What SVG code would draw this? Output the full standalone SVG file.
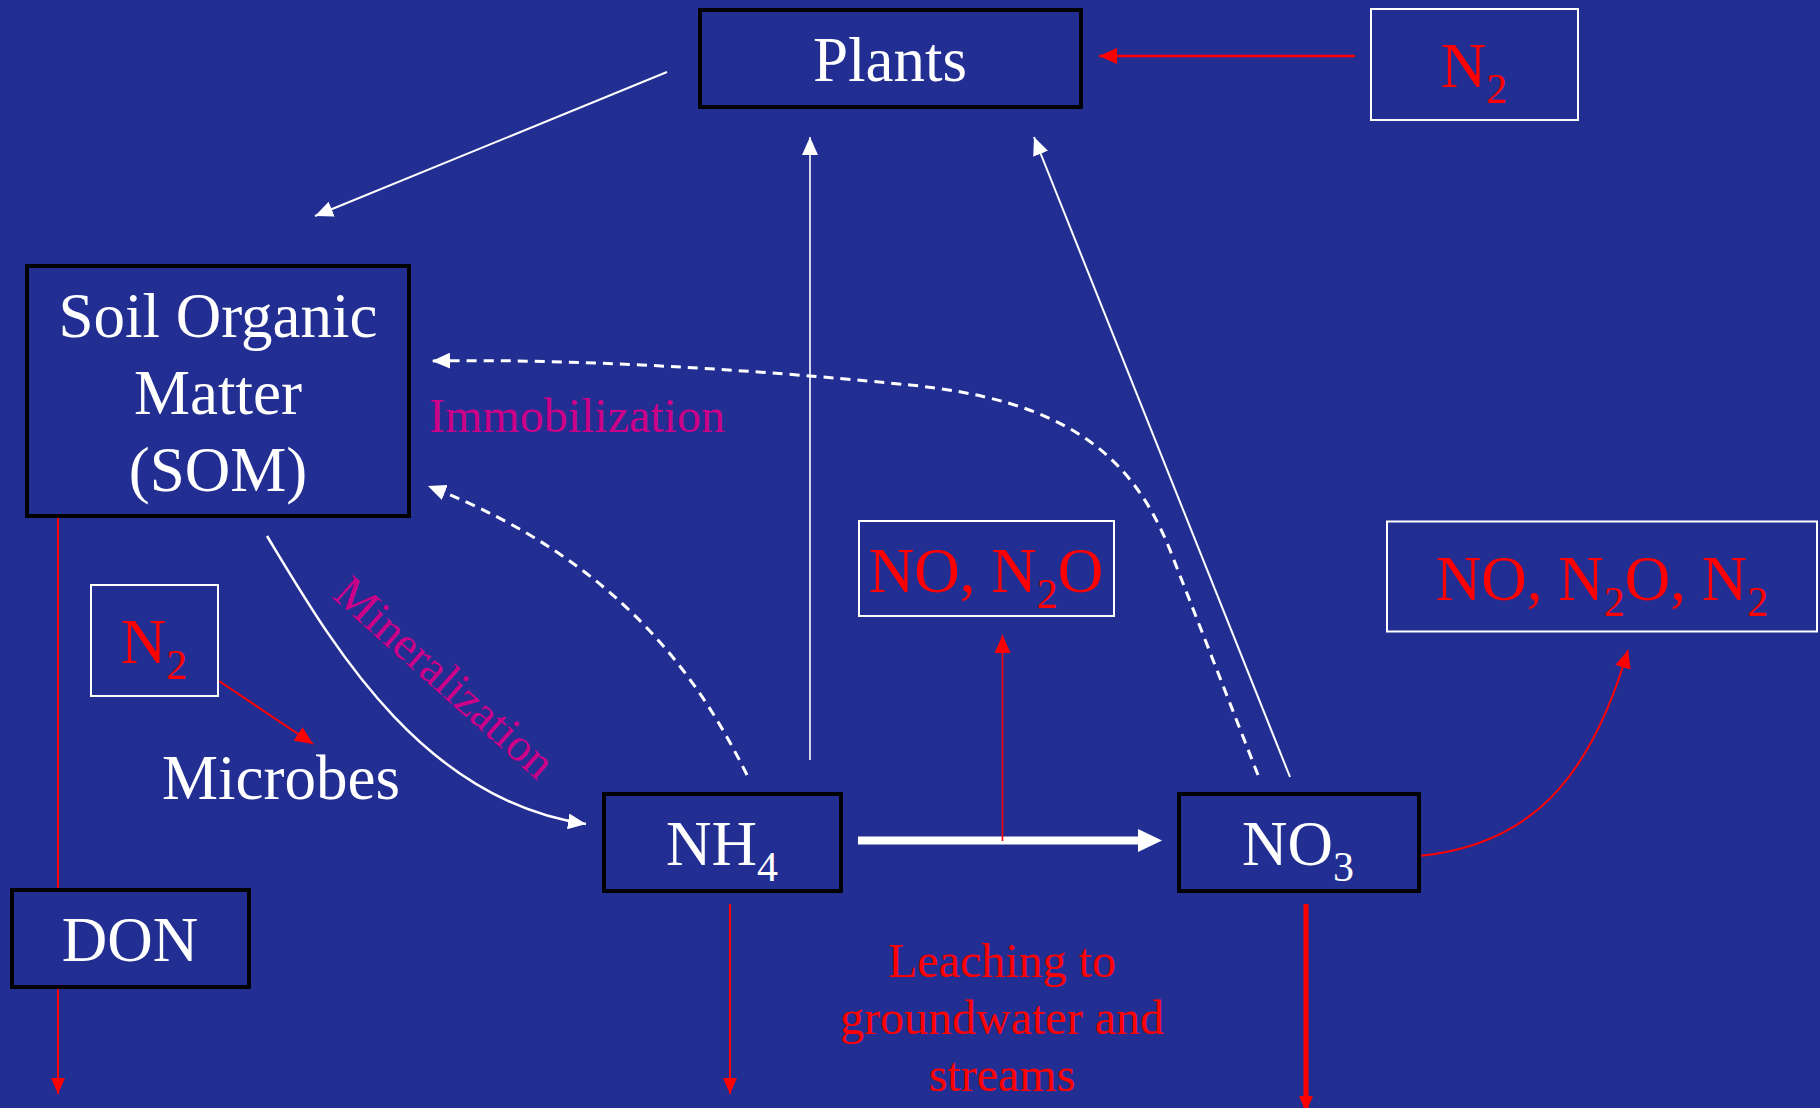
<svg xmlns="http://www.w3.org/2000/svg" width="1820" height="1108" viewBox="0 0 1820 1108">
<style>
.t{font-family:"Liberation Serif","Times New Roman",serif;font-size:63px;fill:#fff;text-anchor:middle}
.r{fill:#f00}
.m{font-family:"Liberation Serif","Times New Roman",serif;font-size:48px;fill:#CC0088}
.lb{font-family:"Liberation Serif","Times New Roman",serif;font-size:48px;fill:#f00;text-anchor:middle}
.sub{font-size:42px}
.bk{fill:#222E92;stroke:#000;stroke-width:4}
.wb{fill:#222E92;stroke:#fff;stroke-width:2}
.w{fill:none;stroke:#fff;stroke-width:2}
.d{fill:none;stroke:#fff;stroke-width:3;stroke-dasharray:10 7}
.rl{fill:none;stroke:#f00;stroke-width:2}
</style>
<defs>
<marker id="aw" markerUnits="userSpaceOnUse" viewBox="0 0 18 16" markerWidth="18" markerHeight="16" refX="18" refY="8" orient="auto"><path d="M0,0 L18,8 L0,16 z" fill="#fff"/></marker>
<marker id="ar" markerUnits="userSpaceOnUse" viewBox="0 0 18 16" markerWidth="18" markerHeight="16" refX="18" refY="8" orient="auto"><path d="M0,0 L18,8 L0,16 z" fill="#f00"/></marker>
<marker id="ar2" markerUnits="userSpaceOnUse" viewBox="0 0 16 14" markerWidth="16" markerHeight="14" refX="16" refY="7" orient="auto"><path d="M0,0 L16,7 L0,14 z" fill="#f00"/></marker>
</defs>
<rect width="1820" height="1108" fill="#222E92"/>

<g id="connectors">
<line x1="667" y1="72" x2="315" y2="216" class="w" marker-end="url(#aw)"/>
<line x1="1355" y1="56" x2="1099" y2="56" class="rl" style="stroke-width:2.5" marker-end="url(#ar)"/>
<line x1="810" y1="760" x2="810" y2="137" class="w" style="stroke-width:1.6" marker-end="url(#aw)"/>
<line x1="1290" y1="777" x2="1034" y2="137" class="w" marker-end="url(#aw)"/>
<path d="M1258 775 L1170 550 C1130 450 1060 400 910 385 C800 374 600 358 432 361" class="d" marker-end="url(#aw)"/>
<path d="M747 775 C700 680 620 560 428 486" class="d" marker-end="url(#aw)"/>
<path d="M267 536 C330 640 420 800 586 824" class="w" style="stroke-width:2.5" marker-end="url(#aw)"/>
<line x1="219" y1="681" x2="313" y2="744" class="rl" marker-end="url(#ar)"/>
<line x1="58" y1="518" x2="58" y2="888" class="rl"/>
<line x1="58" y1="989" x2="58" y2="1094" class="rl" marker-end="url(#ar2)"/>
<line x1="730" y1="904" x2="730" y2="1094" class="rl" marker-end="url(#ar2)"/>
<line x1="1306" y1="904" x2="1306" y2="1112" class="rl" style="stroke-width:5" marker-end="url(#ar2)"/>
<line x1="858" y1="840.5" x2="1140" y2="840.5" stroke="#fff" stroke-width="8"/>
<polygon points="1138,829 1162,840.5 1138,852" fill="#fff"/>
<line x1="1002.5" y1="841" x2="1002.5" y2="635" class="rl" style="stroke-width:1.6" marker-end="url(#ar)"/>
<path d="M1419 856 C1530 845 1590 780 1628 650" class="rl" marker-end="url(#ar)"/>
</g>

<g id="plants"><rect x="700" y="10" width="381" height="97" class="bk"/><text x="890" y="81" class="t">Plants</text></g>
<g id="n2-top"><rect x="1371" y="9" width="207" height="111" class="wb"/><text x="1474" y="87" class="t r">N<tspan class="sub" dy="16">2</tspan></text></g>
<g id="som"><rect x="27" y="266" width="382" height="250" class="bk"/>
<text x="218" y="337" class="t">Soil Organic</text><text x="218" y="414" class="t">Matter</text><text x="218" y="491" class="t">(SOM)</text></g>
<g id="immobilization"><text x="429" y="432" class="m">Immobilization</text></g>
<g id="mineralization"><text x="331" y="597" class="m" style="font-size:47px" transform="rotate(41.7 331 597)">Mineralization</text></g>
<g id="n2-left"><rect x="91" y="585" width="127" height="111" class="wb"/><text x="154" y="663" class="t r">N<tspan class="sub" dy="16">2</tspan></text></g>
<g id="microbes"><text x="281" y="799" class="t">Microbes</text></g>
<g id="don"><rect x="12" y="890" width="237" height="97" class="bk"/><text x="130" y="961" class="t">DON</text></g>
<g id="nh4"><rect x="604" y="794" width="237" height="97" class="bk"/><text x="722" y="865" class="t">NH<tspan class="sub" dy="16">4</tspan></text></g>
<g id="no3"><rect x="1179" y="794" width="240" height="97" class="bk"/><text x="1298" y="865" class="t">NO<tspan class="sub" dy="16">3</tspan></text></g>
<g id="no-n2o"><rect x="859" y="521" width="255" height="95" class="wb"/><text x="986" y="592" class="t r">NO, N<tspan class="sub" dy="16">2</tspan><tspan dy="-16">O</tspan></text></g>
<g id="no-n2o-n2"><rect x="1387" y="521.5" width="430" height="110" class="wb"/><text x="1602" y="600" class="t r">NO, N<tspan class="sub" dy="16">2</tspan><tspan dy="-16">O, N</tspan><tspan class="sub" dy="16">2</tspan></text></g>
<g id="leaching"><text class="lb"><tspan x="1002" y="977">Leaching to</tspan><tspan x="1002" y="1034">groundwater and</tspan><tspan x="1002" y="1091">streams</tspan></text></g>
</svg>
